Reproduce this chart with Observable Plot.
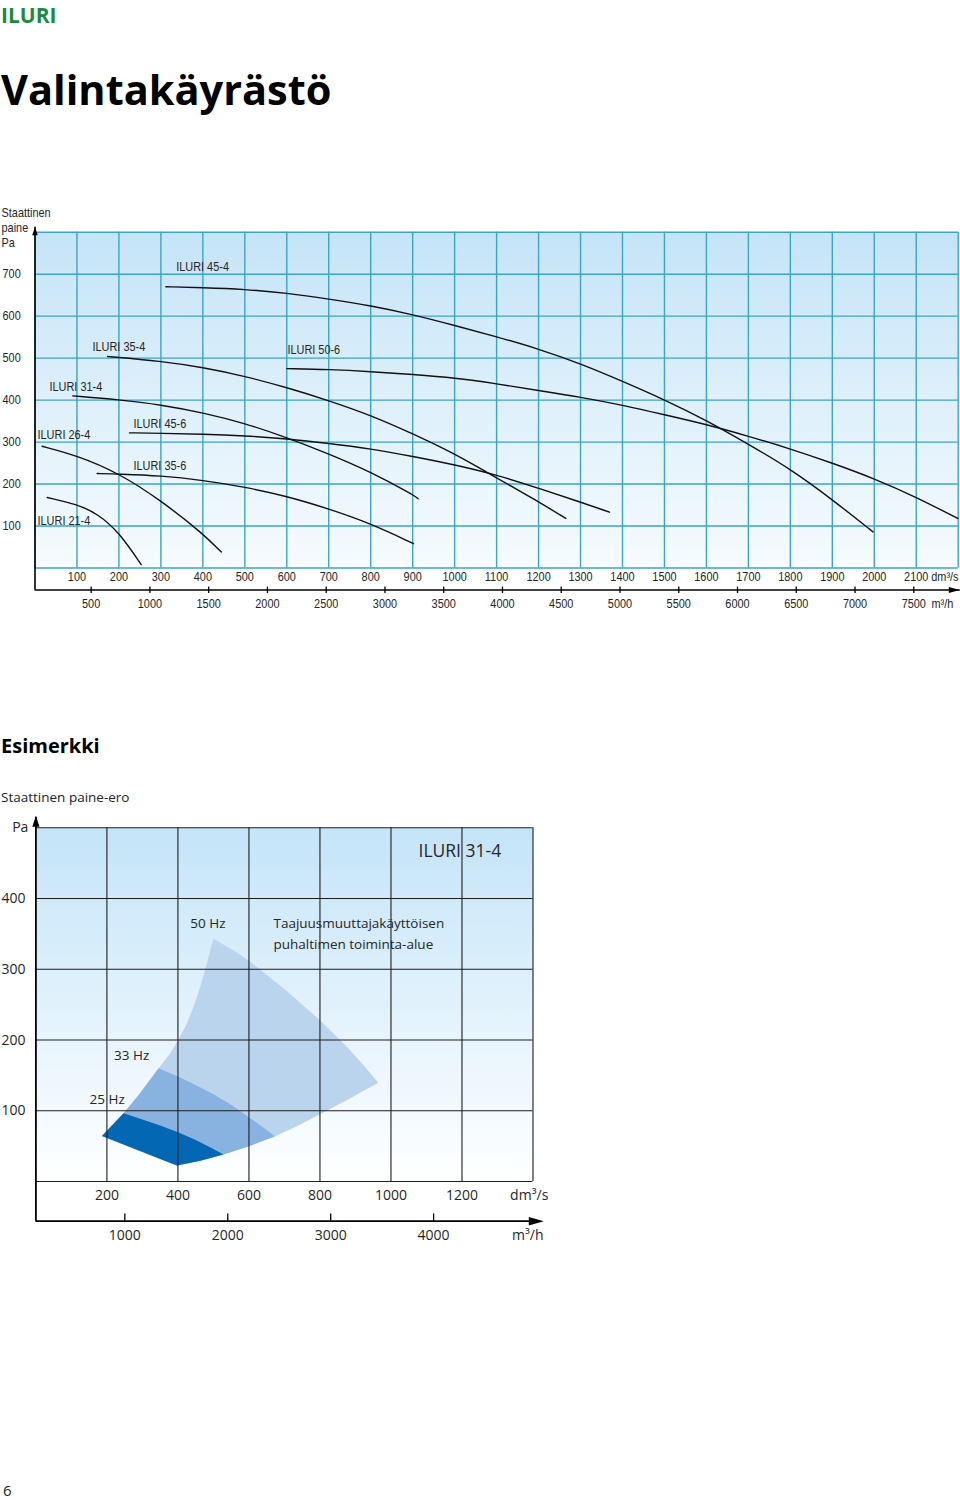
<!DOCTYPE html>
<html><head><meta charset="utf-8">
<script src="https://cdn.jsdelivr.net/npm/d3@7"></script>
<script src="https://cdn.jsdelivr.net/npm/@observablehq/plot@0.6"></script>
<style>
body{margin:0;background:#fff;width:960px;height:1500px;position:relative;font-family:"Open Sans",sans-serif;overflow:hidden}
.abs{position:absolute;white-space:nowrap;line-height:1}
.abs svg{display:block}
</style></head><body>
<div class="abs" style="left:1px;top:5px;font-size:21px;font-weight:700;color:#1b8a3e">ILURI</div>
<div class="abs" style="left:1px;top:69px;font-size:41.5px;font-weight:700;color:#000">Valintakäyrästö</div>
<div class="abs" style="left:1px;top:736px;font-size:20px;font-weight:700;color:#000">Esimerkki</div>
<div class="abs" style="left:1px;top:791px;font-size:13.5px;color:#222">Staattinen paine-ero</div>
<div class="abs" style="left:3px;top:1483px;font-size:15px;color:#222">6</div>
<div id="c1" class="abs" style="left:0;top:200px"></div>
<div id="c1b" class="abs" style="left:0;top:575px"></div>
<div id="c2" class="abs" style="left:0;top:790px"></div>
<div id="c2b" class="abs" style="left:0;top:1205px"></div>
<script>
// ---------------- Chart 1: Valintakäyrästö ----------------
const xTicks1 = [100,200,300,400,500,600,700,800,900,1000,1100,1200,1300,1400,1500,1600,1700,1800,1900,2000,2100];
const xGrid1 = [0,100,200,300,400,500,600,700,800,900,1000,1100,1200,1300,1400,1500,1600,1700,1800,1900,2000,2100,2200];
const yTicks1 = [100,200,300,400,500,600,700];
const yGrid1 = [0,100,200,300,400,500,600,700,800];
const m3hTicks1 = [500,1000,1500,2000,2500,3000,3500,4000,4500,5000,5500,6000,6500,7000,7500];

const curveNames = ["ILURI 21-4","ILURI 26-4","ILURI 31-4","ILURI 35-6","ILURI 35-4","ILURI 45-6","ILURI 45-4","ILURI 50-6"];
const curve21_4 = [[29,168],[100,152],[148,130],[200,86],[253,8]];
const curve26_4 = [[17,290],[100,268],[200,226],[300,161],[400,82],[444,38]];
const curve31_4 = [[90,410],[200,401],[300,389],[400,370],[500,345],[600,311],[700,272],[800,229],[900,175],[913,165]];
const curve35_6 = [[148,225],[200,224],[300,220],[400,209],[500,193],[600,171],[700,141],[800,106],[902,58]];
const curve35_4 = [[173,504],[300,493],[400,478],[500,457],[600,430],[700,399],[800,364],[900,320],[1000,272],[1061,237],[1200,158],[1265,118]];
const curve45_6 = [[225,322],[300,321],[400,319],[500,315],[600,308],[700,297],[800,284],[900,266],[1000,246],[1100,222],[1200,190],[1300,157],[1369,133]];
const curve45_4 = [[312,670],[400,668],[500,664],[600,655],[700,641],[800,625],[900,604],[1000,578],[1100,551],[1200,522],[1300,487],[1400,445],[1500,401],[1600,352],[1700,295],[1800,236],[1900,163],[1997,86]];
const curve50_6 = [[600,475],[700,473],[800,468],[900,461],[1000,453],[1100,439],[1200,423],[1300,407],[1400,388],[1500,365],[1600,342],[1700,314],[1800,284],[1900,250],[2000,213],[2100,169],[2199,118]];
const curveData = [curve21_4,curve26_4,curve31_4,curve35_6,curve35_4,curve45_6,curve45_4,curve50_6];
// label anchors (dm³/s, Pa)
const labelFlow = [6,6,34.5,234.7,137,234.7,336.4,601.5];
const labelPa   = [111.5,318,430.7,242.5,526,342.6,718.3,520.5];

// ---------------- Chart 2: Esimerkki ----------------
const xTicks2 = [200,400,600,800,1000,1200];
const xGrid2 = [200,400,600,800,1000,1200,1400];
const yTicks2 = [100,200,300,400];
const yGrid2 = [0,100,200,300,400,500];
const m3hTicks2 = [1000,2000,3000,4000];
const leftEdge  = [[186,64.4],[247,96.4],[289,122],[345.5,160],[378,181],[402,201],[425,223],[444,247],[463,275],[481.6,308],[500,343]];
const curve50Hz = [[500,343],[550,328.5],[600,312],[700,272],[800,228],[875,191],[920,166],[964,139.6]];
const rightEdge = [[964,139.6],[875,115],[800,95],[735,78],[674,64],[600,50],[528,38],[463,29.5],[397,22.6]];
const curve33Hz = [[345.5,160],[400,148.5],[450,136.5],[500,123.5],[550,108.5],[600,91],[640,76.5],[674,64]];
const curve25Hz = [[247,96.4],[300,87.5],[350,79],[400,69.5],[450,58.5],[500,46],[528,38]];
const bottomEdge = [[397,22.6],[186,64.4]];
const zoneColors = ["#bbd4ee","#88b2e0","#0467b4"];
const annoText = ["50 Hz","Taajuusmuuttajakäyttöisen","puhaltimen toiminta-alue","33 Hz","25 Hz"];
const annoFlow = [435,669,669,220,151];
const annoPa   = [364,364.5,334.4,177.8,115.7];

// ---------------- helpers ----------------
function addGradient(svg, id, c0, c1){
  d3.select(svg).insert("defs", ":first-child").html(
    `<linearGradient id="${id}" x1="0" y1="0" x2="0" y2="1"><stop offset="0" stop-color="${c0}"/><stop offset="1" stop-color="${c1}"/></linearGradient>`);
  return svg;
}
// the reference uses a condensed face; compress each label horizontally around its anchor
function condense(svg, k){
  d3.select(svg).selectAll("text").each(function(){
    const t = this.getAttribute("transform");
    if (t) this.setAttribute("transform", t + ` scale(${k},1)`);
    else {
      const x = +this.getAttribute("x") || 0, y = +this.getAttribute("y") || 0;
      this.removeAttribute("x"); this.removeAttribute("y");
      this.setAttribute("transform", `translate(${x},${y}) scale(${k},1)`);
    }
  });
  return svg;
}
const arrowUp1 = {draw(ctx){ctx.moveTo(0,0);ctx.lineTo(2.8,8);ctx.lineTo(-2.8,8);ctx.closePath();}};
const arrowRight1 = {draw(ctx){ctx.moveTo(0,0);ctx.lineTo(-11,3);ctx.lineTo(-11,-3);ctx.closePath();}};
const arrowUp2 = {draw(ctx){ctx.moveTo(0,0);ctx.lineTo(3.6,11);ctx.lineTo(-3.6,11);ctx.closePath();}};
const arrowRight2 = {draw(ctx){ctx.moveTo(0,0);ctx.lineTo(-15,4.2);ctx.lineTo(-15,-4.2);ctx.closePath();}};
const F1 = "'Liberation Sans',Arial,sans-serif";
const F2 = "'Open Sans',sans-serif";
const GRID1 = "#3ba5c7";
const TXT = "#262626";

const rows1 = curveData.flatMap((pts,i)=>pts.map(([q,p])=>({name:curveNames[i],q,p})));

const svg1 = Plot.plot({
  width:960, height:420, marginLeft:34.5, marginRight:2.3, marginTop:31.7, marginBottom:52.5,
  x:{domain:[0,2200], axis:null}, y:{domain:[0,800], axis:null},
  style:{fontFamily:F1, fontSize:"13px", color:TXT, background:"transparent", overflow:"visible"},
  marks:[
    Plot.frame({fill:"url(#bg1)", stroke:"none"}),
    Plot.gridX(xGrid1, {stroke:GRID1, strokeOpacity:1, strokeWidth:1.4}),
    Plot.gridY(yGrid1, {stroke:GRID1, strokeOpacity:1, strokeWidth:1.4}),
    Plot.line(rows1, {x:"q", y:"p", z:"name", curve:"basis", stroke:"#111", strokeWidth:1.4}),
    Plot.text(curveNames, {x:(d,i)=>labelFlow[i], y:(d,i)=>labelPa[i], text:d=>d, textAnchor:"start", lineAnchor:"middle", fill:TXT}),
    Plot.text(yTicks1, {y:d=>d, text:d=>String(d), frameAnchor:"left", textAnchor:"start", lineAnchor:"middle", dx:-32.5, fill:TXT}),
    Plot.text(["Staattinen\npaine\nPa"], {frameAnchor:"top-left", textAnchor:"start", lineAnchor:"middle", lineHeight:1.15, dx:-33.5, dy:-5, fill:TXT}),
    Plot.text(xTicks1, {x:d=>d, text:d=>String(d), frameAnchor:"bottom", lineAnchor:"middle", dy:8.5, fill:TXT}),
    Plot.text(["dm³/s"], {x:()=>2100, frameAnchor:"bottom", lineAnchor:"middle", textAnchor:"start", dx:15, dy:8.5, fill:TXT}),
    Plot.ruleX([0], {stroke:"#000", strokeWidth:1.6, insetTop:-5, insetBottom:-22}),
    Plot.dot([0], {x:d=>d, frameAnchor:"top", symbol:arrowUp1, fill:"#000", stroke:"none", dy:-5}),
    Plot.ruleY([0], {stroke:"#000", strokeWidth:1.6, dy:22, insetRight:-2}),
    Plot.dot([[2200,0]], {x:d=>d[0], y:d=>d[1], symbol:arrowRight1, fill:"#000", stroke:"none", dx:1.6, dy:22})
  ]
});
addGradient(svg1, "bg1", "#c5e4f7", "#f6fbfe");
condense(svg1, 0.84);
document.getElementById("c1").appendChild(svg1);

const svg1b = Plot.plot({
  width:960, height:40, marginLeft:31.9, marginRight:1, marginTop:11.5, marginBottom:22,
  x:{domain:[0,7889], axis:null},
  style:{fontFamily:F1, fontSize:"13px", color:TXT, background:"transparent", overflow:"visible"},
  marks:[
    Plot.tickX(m3hTicks1, {x:d=>d, stroke:"#000", strokeWidth:1.3}),
    Plot.text(m3hTicks1, {x:d=>d, text:d=>String(d), frameAnchor:"bottom", lineAnchor:"middle", dy:10.3, fill:TXT}),
    Plot.text(["m³/h"], {x:()=>7500, frameAnchor:"bottom", lineAnchor:"middle", textAnchor:"start", dx:17.7, dy:10.3, fill:TXT})
  ]
});
condense(svg1b, 0.84);
document.getElementById("c1b").appendChild(svg1b);

// chart 2 polygons built from the boundary curves
const toRows = pts => pts.map(([q,p])=>({q,p}));
const polyAll  = toRows([...leftEdge, ...curve50Hz, ...rightEdge, ...bottomEdge]);
const polyMid  = toRows([...leftEdge.filter(d=>d[0]<=curve33Hz[0][0]), ...curve33Hz, ...rightEdge.filter(d=>d[0]<curve33Hz[curve33Hz.length-1][0]), ...bottomEdge]);
const polyDark = toRows([...leftEdge.filter(d=>d[0]<=curve25Hz[0][0]), ...curve25Hz, ...rightEdge.filter(d=>d[0]<curve25Hz[curve25Hz.length-1][0]), ...bottomEdge]);

const svg2 = Plot.plot({
  width:560, height:470, marginLeft:35.4, marginRight:27.5, marginTop:37.3, marginBottom:79,
  x:{domain:[0,1400], axis:null}, y:{domain:[0,500], axis:null},
  style:{fontFamily:F2, fontSize:"14px", color:TXT, background:"transparent", overflow:"visible"},
  marks:[
    Plot.frame({fill:"url(#bg2)", stroke:"none"}),
    Plot.line(polyAll, {x:"q", y:"p", fill:zoneColors[0], stroke:"none"}),
    Plot.line(polyMid, {x:"q", y:"p", fill:zoneColors[1], stroke:"none"}),
    Plot.line(polyDark, {x:"q", y:"p", fill:zoneColors[2], stroke:"none"}),
    Plot.gridX(xGrid2, {stroke:"#1d1d1d", strokeOpacity:1, strokeWidth:1.1}),
    Plot.gridY(yGrid2, {stroke:"#1d1d1d", strokeOpacity:1, strokeWidth:1.1}),
    Plot.text(["ILURI 31-4"], {x:()=>1077.5, y:()=>466, textAnchor:"start", lineAnchor:"middle", fontSize:17.5, fill:TXT}),
    Plot.text(annoText, {x:(d,i)=>annoFlow[i], y:(d,i)=>annoPa[i], textAnchor:"start", lineAnchor:"middle", fontSize:13.5, fill:TXT}),
    Plot.text(yTicks2, {y:d=>d, text:d=>String(d), frameAnchor:"left", textAnchor:"start", lineAnchor:"middle", dx:-34.4, fill:TXT}),
    Plot.text(["Pa"], {frameAnchor:"top-left", textAnchor:"start", lineAnchor:"middle", dx:-23.7, dy:-0.6, fill:TXT}),
    Plot.text(xTicks2, {x:d=>d, text:d=>String(d), frameAnchor:"bottom", lineAnchor:"middle", dy:14, fill:TXT}),
    Plot.text(["dm³/s"], {x:()=>1400, frameAnchor:"bottom", lineAnchor:"middle", textAnchor:"middle", dx:-3.8, dy:14, fill:TXT}),
    Plot.ruleX([0], {stroke:"#000", strokeWidth:1.8, insetTop:-10.6, insetBottom:-39.7}),
    Plot.dot([0], {x:d=>d, frameAnchor:"top", symbol:arrowUp2, fill:"#000", stroke:"none", dy:-12}),
    Plot.ruleY([0], {stroke:"#000", strokeWidth:1.8, dy:39.7, insetRight:-4}),
    Plot.dot([[1400,0]], {x:d=>d[0], y:d=>d[1], symbol:arrowRight2, fill:"#000", stroke:"none", dx:10.8, dy:39.7})
  ]
});
addGradient(svg2, "bg2", "#c4e4f8", "#ffffff");
document.getElementById("c2").appendChild(svg2);

const svg2b = Plot.plot({
  width:560, height:45, marginLeft:21.4, marginRight:23.95, marginTop:8.5, marginBottom:29.3,
  x:{domain:[0,5000], axis:null},
  style:{fontFamily:F2, fontSize:"14px", color:TXT, background:"transparent", overflow:"visible"},
  marks:[
    Plot.tickX(m3hTicks2, {x:d=>d, stroke:"#000", strokeWidth:1.3}),
    Plot.text(m3hTicks2, {x:d=>d, text:d=>String(d), frameAnchor:"bottom", lineAnchor:"middle", dy:14.3, fill:TXT}),
    Plot.text(["m³/h"], {frameAnchor:"bottom-right", lineAnchor:"middle", textAnchor:"end", dx:7, dy:14.3, fill:TXT})
  ]
});
document.getElementById("c2b").appendChild(svg2b);
</script>
</body></html>
